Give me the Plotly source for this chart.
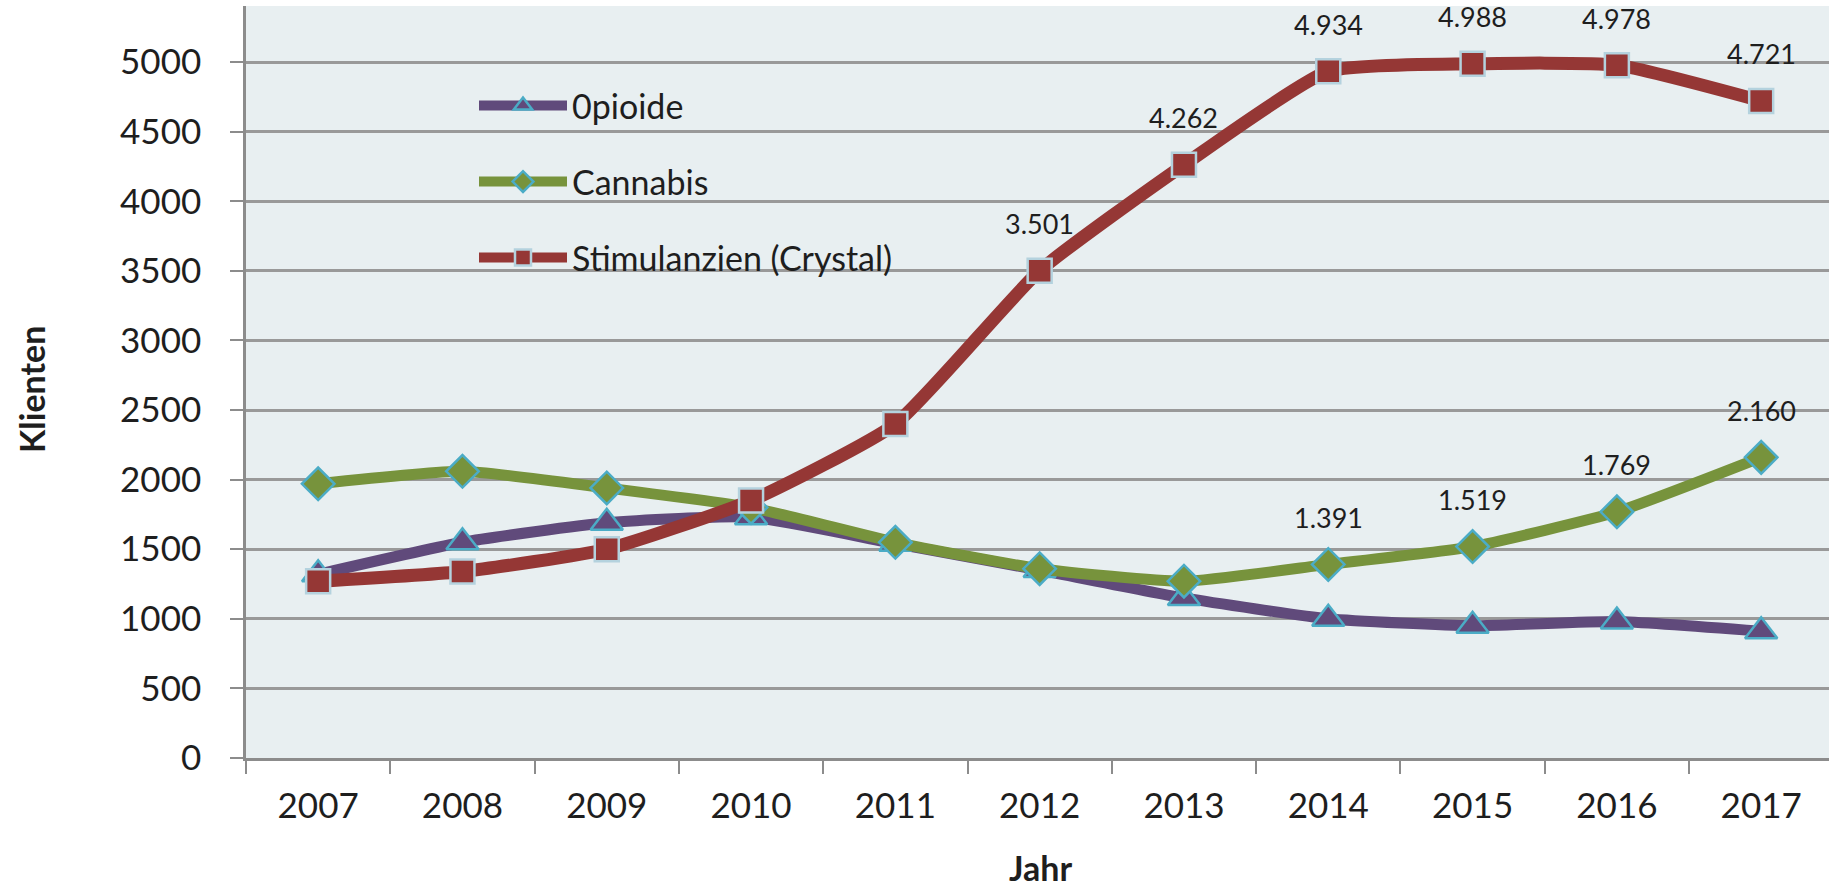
import plotly.graph_objects as go

# ---- data ----
years = ["2007", "2008", "2009", "2010", "2011", "2012", "2013", "2014", "2015", "2016", "2017"]
opioide = [1320, 1550, 1690, 1730, 1540, 1350, 1150, 1000, 950, 980, 910]
cannabis = [1970, 2060, 1940, 1800, 1550, 1360, 1270, 1391, 1519, 1769, 2160]
crystal = [1270, 1340, 1500, 1850, 2400, 3501, 4262, 4934, 4988, 4978, 4721]
crystal_label_from = "2012"
cannabis_label_from = "2014"
y_ticks = [0, 500, 1000, 1500, 2000, 2500, 3000, 3500, 4000, 4500, 5000]

W, H = 1829, 890
FONT = "Lato"
TXT = "#1e1e1e"
PURPLE = "#604A7B"
GREEN = "#77933C"
RED = "#953735"
TEAL = "#4BACC6"
LIGHTBLUE = "#B4D2DE"
BG = "#E8EFF1"
GRID = "#999999"

L_M, R_M, T_M, B_M = 246, 0, 6, 132
PW = W - L_M - R_M
PH = H - T_M - B_M


def px_x(px):
    return (px - L_M) / PW


def px_y(py):
    return (H - B_M - py) / PH


SMOOTH = 0.5
fig = go.Figure()

fig.add_trace(go.Scatter(
    x=years, y=opioide, name="0pioide", mode="lines+markers",
    line=dict(color=PURPLE, width=11, shape="spline", smoothing=SMOOTH),
    marker=dict(symbol="triangle-up", size=28, color=PURPLE, line=dict(color=TEAL, width=2.5)),
    legend="legend",
))
fig.add_trace(go.Scatter(
    x=years, y=cannabis, name="Cannabis", mode="lines+markers",
    line=dict(color=GREEN, width=11, shape="spline", smoothing=SMOOTH),
    marker=dict(symbol="diamond", size=25, color=GREEN, line=dict(color=TEAL, width=2.5)),
    legend="legend2",
))
fig.add_trace(go.Scatter(
    x=years, y=crystal, name="Stimulanzien (Crystal)", mode="lines+markers",
    line=dict(color=RED, width=13, shape="spline", smoothing=SMOOTH),
    marker=dict(symbol="square", size=24, color=RED, line=dict(color=LIGHTBLUE, width=2.5)),
    legend="legend3",
))


def fmt(v):
    return f"{v:,}".replace(",", ".")


annotations = []
for series, start in ((crystal, crystal_label_from), (cannabis, cannabis_label_from)):
    i0 = years.index(start)
    for i in range(i0, len(years)):
        annotations.append(dict(
            x=i, y=series[i], xref="x", yref="y", text=fmt(series[i]), showarrow=False,
            yshift=47, font=dict(family=FONT, size=27, color=TXT),
            xanchor="center", yanchor="middle",
        ))

# axis titles
annotations.append(dict(
    text="<b>Jahr</b>", x=px_x(1040), y=px_y(867), xref="paper", yref="paper",
    showarrow=False, font=dict(family=FONT, size=34, color=TXT),
    xanchor="center", yanchor="middle",
))
annotations.append(dict(
    text="<b>Klienten</b>", x=px_x(31), y=px_y(390), xref="paper", yref="paper",
    showarrow=False, font=dict(family=FONT, size=34, color=TXT), textangle=-90,
    xanchor="center", yanchor="middle",
))

leg_common = dict(
    xref="paper", yref="paper", xanchor="left", yanchor="middle",
    bgcolor="rgba(0,0,0,0)", borderwidth=0, itemwidth=88,
    font=dict(family=FONT, size=34, color=TXT),
)
fig.update_layout(
    width=W, height=H,
    margin=dict(l=L_M, r=R_M, t=T_M, b=B_M, autoexpand=False),
    paper_bgcolor="white",
    plot_bgcolor=BG,
    font=dict(family=FONT, size=35, color=TXT),
    showlegend=True,
    legend=dict(x=px_x(474), y=px_y(106), **leg_common),
    legend2=dict(x=px_x(474), y=px_y(182), **leg_common),
    legend3=dict(x=px_x(474), y=px_y(258), **leg_common),
    annotations=annotations,
    xaxis=dict(
        type="category", range=[-0.5, 10.47],
        showgrid=False, zeroline=False,
        showline=True, linecolor="#8c8c8c", linewidth=2.5,
        ticks="outside", tickson="boundaries", ticklen=13, tickwidth=2, tickcolor="#8c8c8c",
        tickfont=dict(family=FONT, size=35, color=TXT), tickangle=0,
        ticklabelstandoff=15, automargin=False,
    ),
    yaxis=dict(
        range=[0, 5403], tickvals=y_ticks,
        showgrid=True, gridcolor=GRID, gridwidth=2.5, zeroline=False,
        showline=True, linecolor="#8c8c8c", linewidth=2.5,
        ticks="outside", ticklen=13, tickwidth=2, tickcolor="#8c8c8c",
        tickfont=dict(family=FONT, size=35, color=TXT),
        ticklabelstandoff=22, automargin=False,
    ),
)

fig.write_html("out.html")
